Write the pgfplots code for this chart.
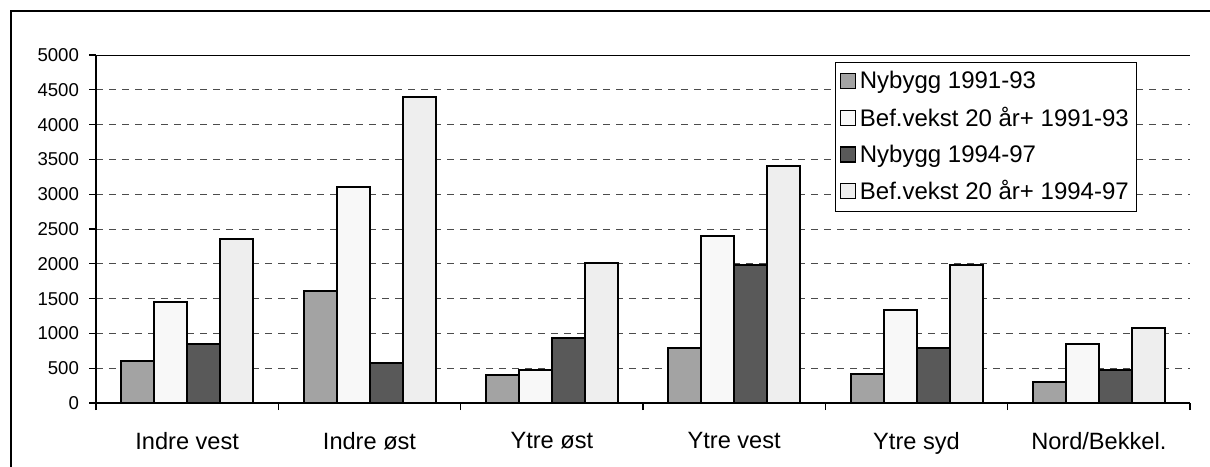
\documentclass[border=0pt]{standalone}
\usepackage{pgfplots}
\pgfplotsset{compat=1.18}
\usepackage{fontspec}
\setmainfont{Liberation Sans}
\definecolor{nyA}{HTML}{A3A3A3}
\definecolor{befA}{HTML}{F8F8F8}
\definecolor{nyB}{HTML}{595959}
\definecolor{befB}{HTML}{EEEEEE}
\pgfplotsset{sqlegend/.style={legend image code/.code={\draw[##1,line width=0.7pt] (0pt,-3.5pt) rectangle (7.5pt,4pt);}}}
\begin{document}
\begin{tikzpicture}
\begin{axis}[name=ax, scale only axis, width=547pt, height=174pt,
  ybar=0pt, bar width=16.5pt,
  xmin=-0.5, xmax=5.5, ymin=0, ymax=5000,
  xtick={-0.5,0.5,1.5,2.5,3.5,4.5,5.5}, xticklabels={},
  extra x ticks={0,1,2,3,4,5},
  extra x tick labels={Indre vest,Indre øst,Ytre øst,Ytre vest,Ytre syd,Nord/Bekkel.},
  extra x tick style={major tick length=0pt,
    tick label style={font=\fontsize{11.8}{14}\selectfont, yshift=-11pt}},
  ytick={0,500,...,5000},
  yticklabel style={font=\fontsize{9.3}{11}\selectfont, xshift=-1.5pt},
  /pgf/number format/assume math mode=true,
  /pgf/number format/1000 sep={},
  axis x line*=bottom, axis y line*=left,
  x axis line style={-, line width=0.7pt}, y axis line style={-, line width=0.7pt},
  tick align=outside, major tick length=3.5pt, tick style={black, line width=0.6pt},
  ymajorgrids, grid style={dash pattern=on 3.5pt off 3pt, line width=0.5pt, color=black!70},
  legend style={at={(0.6755,0.98)}, anchor=north west, draw=black, line width=0.5pt,
    font=\fontsize{12}{14}\selectfont, inner xsep=2pt, inner ysep=2.5pt, row sep=3.6pt},
  legend cell align=left,
]
\addplot[fill=nyA, draw=black, line width=1pt, sqlegend] coordinates {(0,600) (1,1610) (2,400) (3,790) (4,420) (5,300)};
\addlegendentry{Nybygg 1991-93}
\addplot[fill=befA, draw=black, line width=1pt, sqlegend] coordinates {(0,1450) (1,3100) (2,470) (3,2400) (4,1340) (5,850)};
\addlegendentry{Bef.vekst 20 år+ 1991-93}
\addplot[fill=nyB, draw=black, line width=1pt, sqlegend] coordinates {(0,850) (1,580) (2,940) (3,1990) (4,790) (5,480)};
\addlegendentry{Nybygg 1994-97}
\addplot[fill=befB, draw=black, line width=1pt, sqlegend] coordinates {(0,2350) (1,4400) (2,2010) (3,3400) (4,1990) (5,1080)};
\addlegendentry{Bef.vekst 20 år+ 1994-97}
\draw[line width=0.7pt] (rel axis cs:0,1) -- (rel axis cs:1,1);
\end{axis}
\pgfresetboundingbox
\path[use as bounding box] ([shift={(-48pt,-31.5pt)}]ax.south west) rectangle ([shift={(10pt,27.5pt)}]ax.north east);
\draw[line width=0.7pt] ([shift={(-42.5pt,-40pt)}]ax.south west) -- ([shift={(-42.5pt,22pt)}]ax.north west) -- ([shift={(20pt,22pt)}]ax.north east);
\end{tikzpicture}
\end{document}
